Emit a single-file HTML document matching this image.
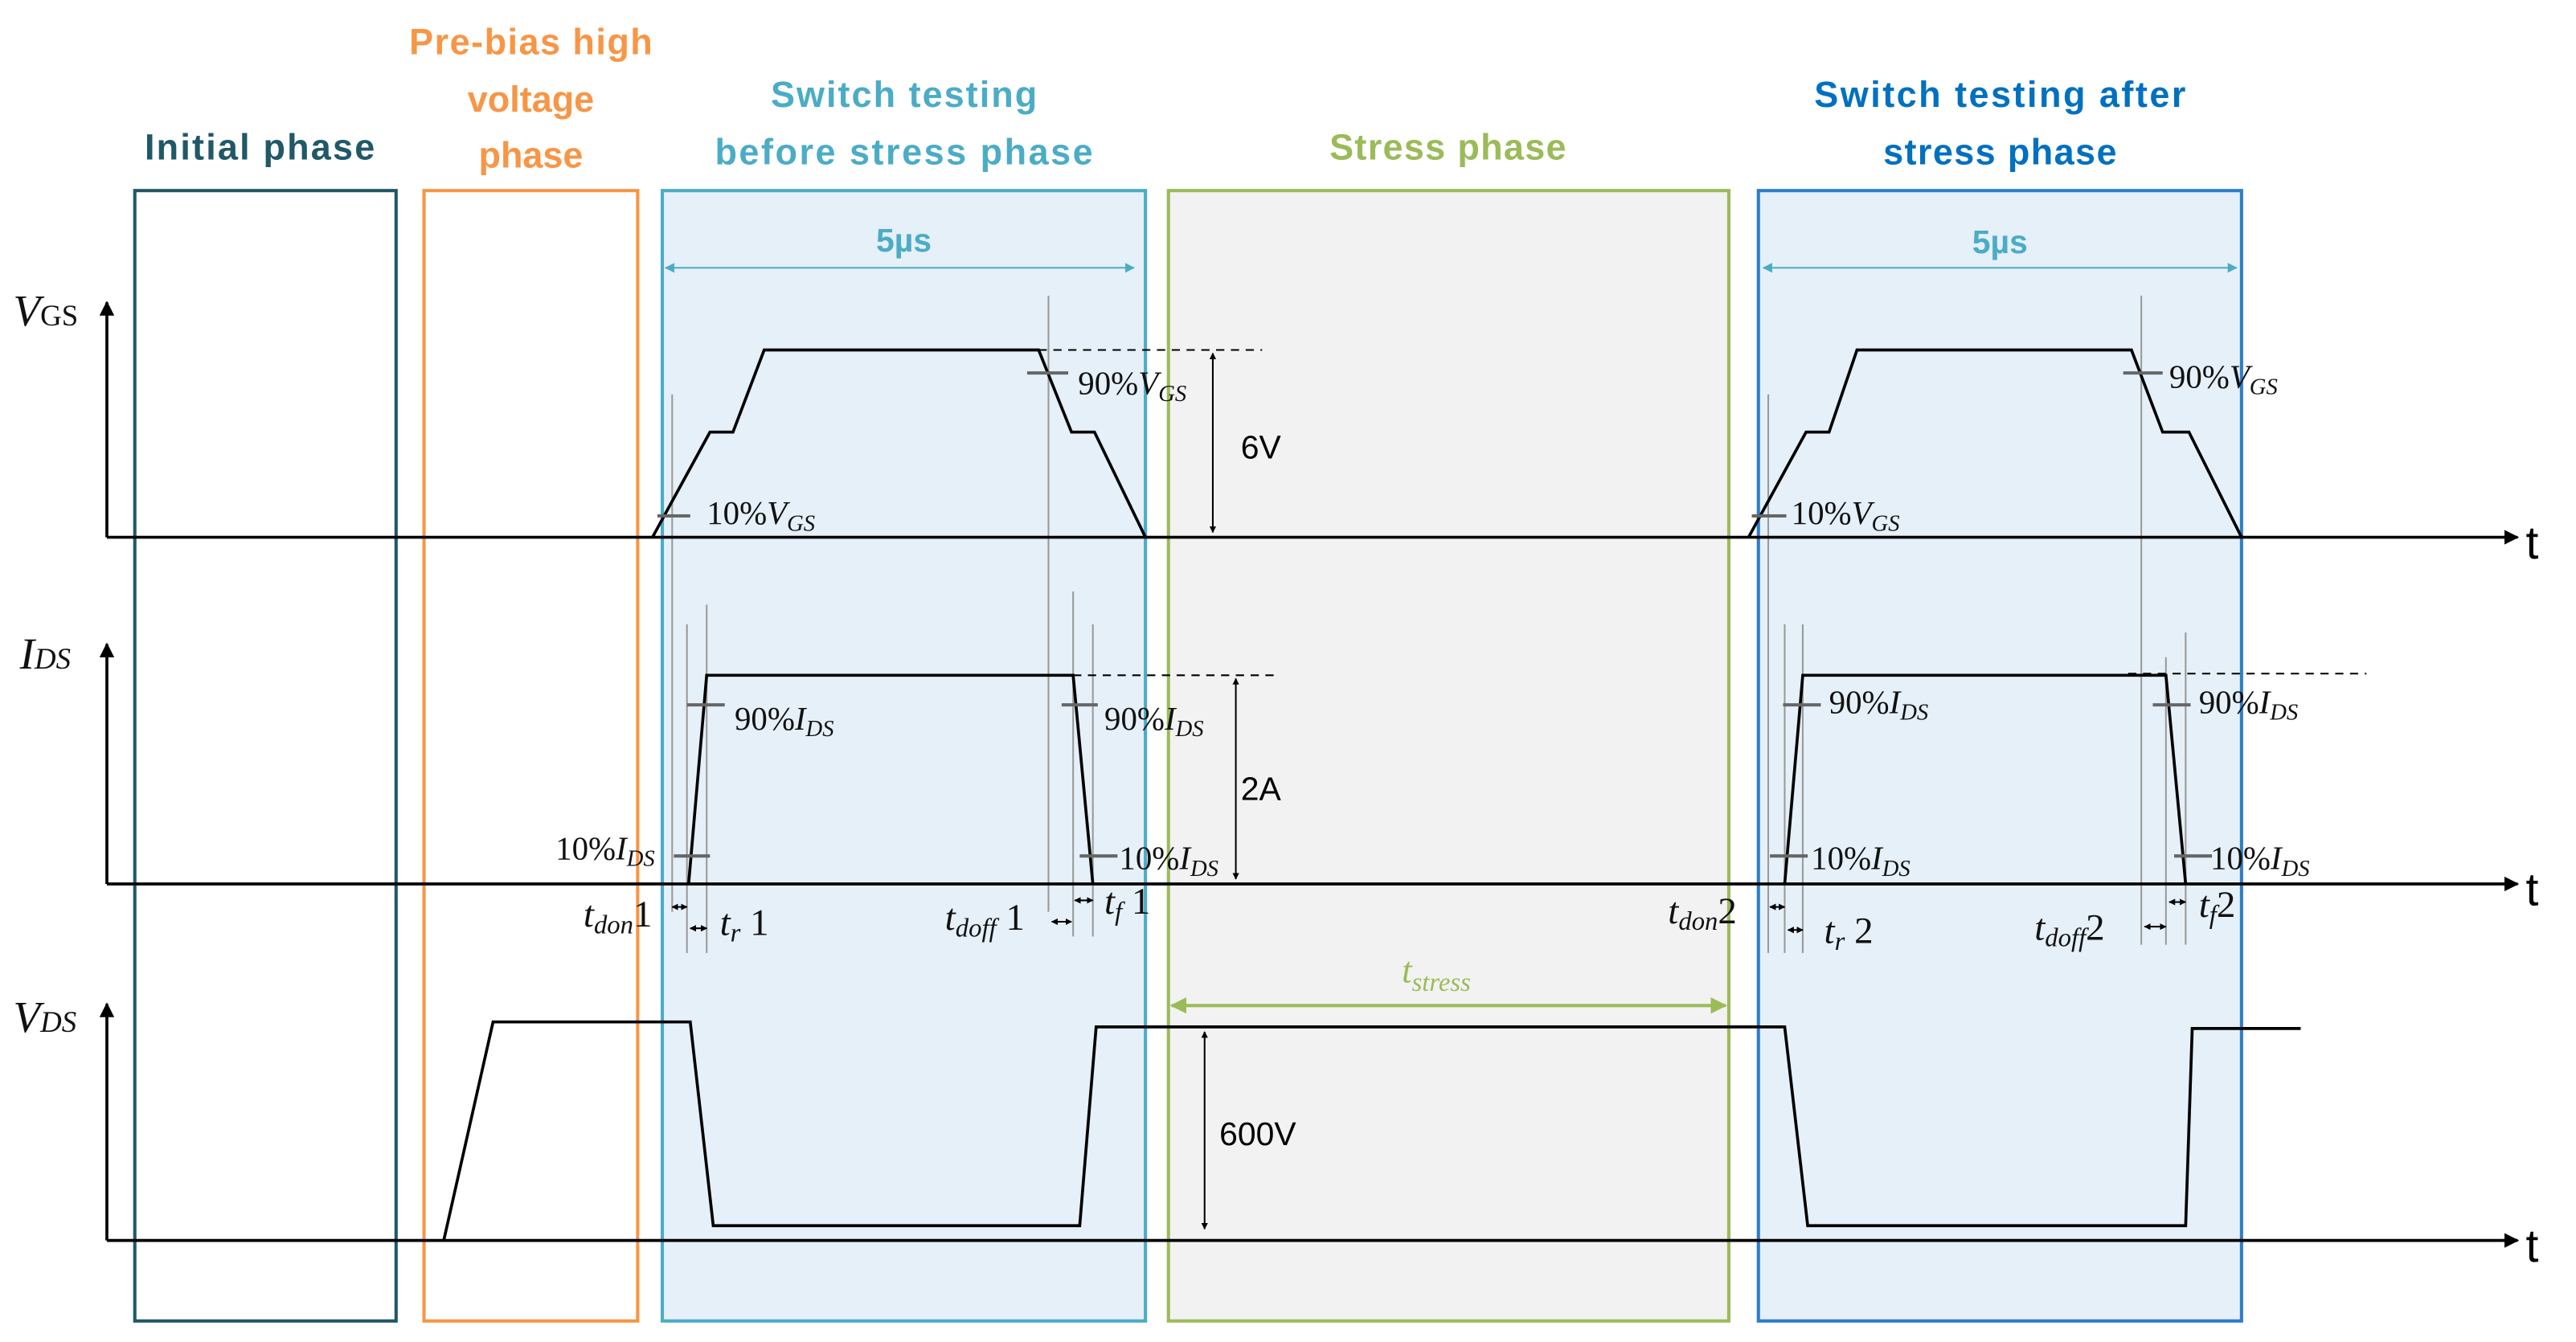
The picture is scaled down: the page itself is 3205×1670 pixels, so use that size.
<!DOCTYPE html>
<html><head><meta charset="utf-8"><style>html,body{margin:0;padding:0;background:#fff}svg{display:block}
.t{font-family:"Liberation Sans",sans-serif;font-weight:bold;font-size:22px;text-anchor:middle}
.m{font-family:"Liberation Serif",serif;fill:#111}
.s{font-style:italic}
</style></head><body>
<svg width="3205" height="1670" viewBox="0 0 1567.5 816.8" xmlns="http://www.w3.org/2000/svg">
<defs>
<marker id="a" viewBox="0 0 10 10" refX="9" refY="5" markerWidth="5" markerHeight="5" orient="auto-start-reverse"><path d="M0,0L10,5L0,10z" fill="#000"/></marker>
<marker id="b" viewBox="0 0 10 10" refX="9" refY="5" markerWidth="6" markerHeight="6" orient="auto-start-reverse"><path d="M0,0L10,5L0,10z" fill="#4bacc6"/></marker>
<marker id="g" viewBox="0 0 10 10" refX="9" refY="5" markerWidth="5" markerHeight="5" orient="auto-start-reverse"><path d="M0,0L10,5L0,10z" fill="#9bbb59"/></marker>
<marker id="k" viewBox="0 0 10 10" refX="9" refY="5" markerWidth="4" markerHeight="4" orient="auto-start-reverse"><path d="M0,0L10,5L0,10z" fill="#000"/></marker>
</defs>
<rect x="82" y="116" width="159" height="688" fill="none" stroke="#215868" stroke-width="2"/>
<rect x="258" y="116" width="130" height="688" fill="none" stroke="#f79646" stroke-width="2"/>
<rect x="403" y="116" width="294" height="688" fill="#e5f0f8" stroke="#4bacc6" stroke-width="2"/>
<rect x="711" y="116" width="341" height="688" fill="#f2f2f2" stroke="#9bbb59" stroke-width="2"/>
<rect x="1070" y="116" width="294" height="688" fill="#e5f0f8" stroke="#2e7dc8" stroke-width="2"/>
<text class="t" x="158" y="97" fill="#215868" textLength="140">Initial phase</text>
<text class="t" x="323" y="33" fill="#f79646" textLength="148">Pre-bias high</text>
<text class="t" x="323" y="68" fill="#f79646">voltage</text>
<text class="t" x="323" y="102" fill="#f79646">phase</text>
<text class="t" x="550" y="65" fill="#4bacc6" textLength="162">Switch testing</text>
<text class="t" x="550" y="100" fill="#4bacc6" textLength="230">before  stress phase</text>
<text class="t" x="881" y="97" fill="#9bbb59" textLength="144">Stress phase</text>
<text class="t" x="1217" y="65" fill="#0070c0" textLength="226">Switch testing after</text>
<text class="t" x="1217" y="100" fill="#0070c0" textLength="142">stress phase</text>
<text class="t" x="550" y="153" fill="#4bacc6" style="font-size:20px">5µs</text>
<line x1="405" y1="163" x2="690" y2="163" stroke="#4bacc6" stroke-width="1" marker-start="url(#b)" marker-end="url(#b)"/>
<text class="t" x="1217" y="154" fill="#4bacc6" style="font-size:20px">5µs</text>
<line x1="1073" y1="163" x2="1361" y2="163" stroke="#4bacc6" stroke-width="1" marker-start="url(#b)" marker-end="url(#b)"/>
<g stroke="#999" stroke-width="1">
<line x1="409" y1="240" x2="409" y2="555"/><line x1="638" y1="180" x2="638" y2="555"/>
<line x1="418" y1="380" x2="418" y2="580"/><line x1="430" y1="368" x2="430" y2="580"/>
<line x1="653" y1="360" x2="653" y2="570"/><line x1="665" y1="380" x2="665" y2="570"/>
<line x1="1076" y1="240" x2="1076" y2="580"/><line x1="1303" y1="180" x2="1303" y2="575"/>
<line x1="1086" y1="380" x2="1086" y2="580"/><line x1="1097" y1="380" x2="1097" y2="580"/>
<line x1="1318" y1="400" x2="1318" y2="575"/><line x1="1330" y1="385" x2="1330" y2="575"/>
</g>
<g stroke="#000" stroke-width="1.8" fill="none">
<line x1="65" y1="327" x2="65" y2="184" marker-end="url(#a)"/>
<line x1="65" y1="327" x2="1532" y2="327" marker-end="url(#a)"/>
<line x1="65" y1="538" x2="65" y2="392" marker-end="url(#a)"/>
<line x1="65" y1="538" x2="1532" y2="538" marker-end="url(#a)"/>
<line x1="65" y1="755" x2="65" y2="611" marker-end="url(#a)"/>
<line x1="65" y1="755" x2="1532" y2="755" marker-end="url(#a)"/>
</g>
<g font-family="Liberation Sans,sans-serif" font-size="28" fill="#000">
<text x="1537" y="340">t</text><text x="1537" y="551">t</text><text x="1537" y="768">t</text></g>
<text class="m" x="8" y="198" style="font-size:27px;font-style:italic">V<tspan style="font-size:18px;font-style:normal">GS</tspan></text>
<text class="m" x="12" y="407" style="font-size:27px;font-style:italic">I<tspan style="font-size:18px">DS</tspan></text>
<text class="m" x="8" y="628" style="font-size:27px;font-style:italic">V<tspan style="font-size:18px">DS</tspan></text>
<g stroke="#000" stroke-width="1.8" fill="none">
<polyline points="397,327 432,263 446,263 465,213 632,213 652,263 666,263 697,327"/>
<polyline points="1064,327 1099,263 1113,263 1130,213 1297,213 1316,263 1332,263 1364,327"/>
<polyline points="419,538 430,411 653,411 665,538"/>
<polyline points="1086,538 1097,411 1318,411 1330,538"/>
<polyline points="270,755 300,622 420,622 434,746 657,746 667,625 1086,625 1100,746 1330,746 1334,626 1400,626"/>
</g>
<g stroke="#000" stroke-width="1" stroke-dasharray="5,4">
<line x1="632" y1="213" x2="768" y2="213"/><line x1="653" y1="411" x2="778" y2="411"/><line x1="1295" y1="410" x2="1440" y2="410"/>
</g>
<g stroke="#000" stroke-width="1">
<line x1="738" y1="215" x2="738" y2="324" marker-start="url(#k)" marker-end="url(#k)"/>
<line x1="752" y1="413" x2="752" y2="535" marker-start="url(#k)" marker-end="url(#k)"/>
<line x1="733" y1="628" x2="733" y2="748" marker-start="url(#k)" marker-end="url(#k)"/>
</g>
<g font-family="Liberation Sans,sans-serif" font-size="20" fill="#000">
<text x="755" y="279">6V</text><text x="755" y="487">2A</text><text x="742" y="697">600V</text></g>
<line x1="713" y1="612" x2="1050" y2="612" stroke="#9bbb59" stroke-width="2" marker-start="url(#g)" marker-end="url(#g)"/>
<text x="853" y="598" style="font-family:'Liberation Serif',serif;fill:#9bbb59;font-size:22px;font-style:italic">t<tspan style="font-size:16px" dy="5">stress</tspan></text>
<g stroke="#666" stroke-width="2">
<line x1="400" y1="314" x2="420" y2="314"/><line x1="625" y1="227" x2="650" y2="227"/>
<line x1="1066" y1="314" x2="1087" y2="314"/><line x1="1292" y1="227" x2="1316" y2="227"/>
<line x1="418" y1="429" x2="441" y2="429"/><line x1="646" y1="429" x2="668" y2="429"/>
<line x1="410" y1="521" x2="432" y2="521"/><line x1="657" y1="521" x2="680" y2="521"/>
<line x1="1085" y1="429" x2="1108" y2="429"/><line x1="1310" y1="429" x2="1333" y2="429"/>
<line x1="1077" y1="521" x2="1100" y2="521"/><line x1="1323" y1="521" x2="1346" y2="521"/>
</g>
<g style="font-size:20px">
<text class="m" x="430" y="319">10%<tspan font-style="italic">V</tspan><tspan class="s" style="font-size:14px" dy="4">GS</tspan></text>
<text class="m" x="656" y="240">90%<tspan font-style="italic">V</tspan><tspan class="s" style="font-size:14px" dy="4">GS</tspan></text>
<text class="m" x="1090" y="319">10%<tspan font-style="italic">V</tspan><tspan class="s" style="font-size:14px" dy="4">GS</tspan></text>
<text class="m" x="1320" y="236">90%<tspan font-style="italic">V</tspan><tspan class="s" style="font-size:14px" dy="4">GS</tspan></text>
<text class="m" x="447" y="444">90%<tspan font-style="italic">I</tspan><tspan class="s" style="font-size:14px" dy="4">DS</tspan></text>
<text class="m" x="672" y="444">90%<tspan font-style="italic">I</tspan><tspan class="s" style="font-size:14px" dy="4">DS</tspan></text>
<text class="m" x="338" y="523">10%<tspan font-style="italic">I</tspan><tspan class="s" style="font-size:14px" dy="4">DS</tspan></text>
<text class="m" x="681" y="529">10%<tspan font-style="italic">I</tspan><tspan class="s" style="font-size:14px" dy="4">DS</tspan></text>
<text class="m" x="1113" y="434">90%<tspan font-style="italic">I</tspan><tspan class="s" style="font-size:14px" dy="4">DS</tspan></text>
<text class="m" x="1338" y="434">90%<tspan font-style="italic">I</tspan><tspan class="s" style="font-size:14px" dy="4">DS</tspan></text>
<text class="m" x="1102" y="529">10%<tspan font-style="italic">I</tspan><tspan class="s" style="font-size:14px" dy="4">DS</tspan></text>
<text class="m" x="1345" y="529">10%<tspan font-style="italic">I</tspan><tspan class="s" style="font-size:14px" dy="4">DS</tspan></text>
</g>
<g style="font-size:23px">
<text class="m" x="355" y="564"><tspan font-style="italic">t</tspan><tspan class="s" style="font-size:16px" dy="4">don</tspan><tspan dy="-4">1</tspan></text>
<text class="m" x="438" y="569"><tspan font-style="italic">t</tspan><tspan class="s" style="font-size:16px" dy="4">r</tspan><tspan dy="-4"> 1</tspan></text>
<text class="m" x="575" y="566"><tspan font-style="italic">t</tspan><tspan class="s" style="font-size:16px" dy="4">doff</tspan><tspan dy="-4"> 1</tspan></text>
<text class="m" x="672" y="556"><tspan font-style="italic">t</tspan><tspan class="s" style="font-size:16px" dy="4">f</tspan><tspan dy="-4"> 1</tspan></text>
<text class="m" x="1015" y="562"><tspan font-style="italic">t</tspan><tspan class="s" style="font-size:16px" dy="4">don</tspan><tspan dy="-4">2</tspan></text>
<text class="m" x="1110" y="574"><tspan font-style="italic">t</tspan><tspan class="s" style="font-size:16px" dy="4">r</tspan><tspan dy="-4"> 2</tspan></text>
<text class="m" x="1238" y="572"><tspan font-style="italic">t</tspan><tspan class="s" style="font-size:16px" dy="4">doff</tspan><tspan dy="-4">2</tspan></text>
<text class="m" x="1338" y="558"><tspan font-style="italic">t</tspan><tspan class="s" style="font-size:16px" dy="4">f</tspan><tspan dy="-4">2</tspan></text>
</g>
<g stroke="#000" stroke-width="1">
<line x1="409" y1="552" x2="418" y2="552" marker-start="url(#k)" marker-end="url(#k)"/>
<line x1="420" y1="565" x2="430" y2="565" marker-start="url(#k)" marker-end="url(#k)"/>
<line x1="640" y1="561" x2="652" y2="561" marker-start="url(#k)" marker-end="url(#k)"/>
<line x1="654" y1="548" x2="665" y2="548" marker-start="url(#k)" marker-end="url(#k)"/>
<line x1="1077" y1="552" x2="1086" y2="552" marker-start="url(#k)" marker-end="url(#k)"/>
<line x1="1088" y1="566" x2="1097" y2="566" marker-start="url(#k)" marker-end="url(#k)"/>
<line x1="1305" y1="564" x2="1318" y2="564" marker-start="url(#k)" marker-end="url(#k)"/>
<line x1="1320" y1="549" x2="1330" y2="549" marker-start="url(#k)" marker-end="url(#k)"/>
</g>
</svg>
</body></html>
